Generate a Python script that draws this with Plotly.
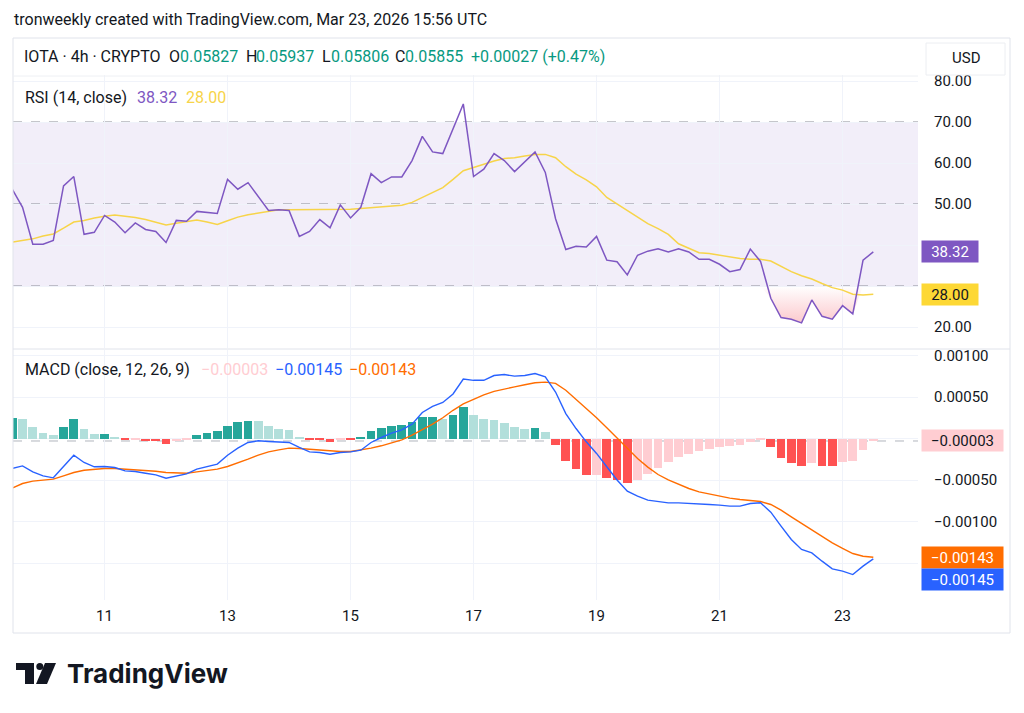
import pandas as pd
import plotly.graph_objects as go
from plotly.subplots import make_subplots

# ---------------- data ----------------
start_time = "2026-03-09 12:00"
bar_hours = 4

rsi = [53.6, 49.2, 40.2, 40.2, 41.1, 54.4, 56.7, 42.6, 43.1, 47.2,
       45.6, 43.0, 45.4, 43.8, 43.3, 40.6, 46.0, 45.8, 48.2, 48.0,
       47.7, 56.0, 53.6, 55.2, 51.8, 48.4, 48.6, 48.4, 42.1, 43.3,
       46.2, 44.2, 49.8, 46.6, 49.2, 57.4, 55.2, 56.6, 56.6, 60.6,
       66.5, 62.7, 62.3, 68.3, 74.4, 56.7, 58.5, 62.3, 60.6, 57.9,
       60.2, 62.7, 57.7, 46.4, 38.9, 39.7, 39.5, 42.1, 36.3, 35.9,
       32.7, 37.5, 38.5, 39.1, 38.3, 39.1, 38.3, 36.5, 36.5, 35.3,
       33.5, 34.0, 39.0, 36.0, 27.0, 22.3, 21.9, 21.0, 26.6, 22.6,
       21.9, 25.2, 23.2, 36.3, 38.32]

rsi_ma = [40.7, 41.1, 41.5, 42.2, 42.7, 44.1, 45.6, 46.0, 46.6, 47.0,
          47.3, 47.0, 46.7, 46.2, 45.6, 44.9, 45.3, 45.7, 46.1, 45.6,
          45.0, 45.9, 46.8, 47.4, 47.8, 48.2, 48.6, 48.6, 48.6, 48.6,
          48.6, 48.6, 48.6, 48.7, 48.9, 49.1, 49.3, 49.5, 49.7, 50.4,
          51.6, 52.7, 54.0, 56.0, 58.1, 58.9, 59.7, 60.5, 61.1, 61.3,
          61.7, 62.1, 62.1, 61.3, 59.1, 57.3, 55.9, 54.2, 51.6, 50.0,
          48.4, 46.8, 45.2, 44.0, 42.6, 40.3, 39.1, 38.1, 37.9, 37.5,
          37.1, 36.7, 36.5, 36.5, 36.1, 34.8, 33.5, 32.5, 31.7, 30.6,
          29.6, 29.0, 28.0, 27.8, 28.0]

macd = [-0.000361, -0.000330, -0.000402, -0.000450, -0.000474, -0.000337, -0.000201, -0.000289, -0.000341, -0.000337,
        -0.000349, -0.000390, -0.000398, -0.000418, -0.000438, -0.000478, -0.000450, -0.000426, -0.000369, -0.000337,
        -0.000309, -0.000201, -0.000116, -0.000048, -0.000028, -0.000036, -0.000044, -0.000048, -0.000108, -0.000161,
        -0.000169, -0.000189, -0.000169, -0.000161, -0.000141, -0.000048, 0.000012, 0.000064, 0.000104, 0.000173,
        0.000313, 0.000386, 0.000434, 0.000536, 0.000717, 0.000701, 0.000701, 0.000759, 0.000771, 0.000751,
        0.000759, 0.000783, 0.000743, 0.000560, 0.000300, 0.000120, -0.000040, -0.000180, -0.000340, -0.000500,
        -0.000635, -0.000695, -0.000743, -0.000763, -0.000775, -0.000775, -0.000779, -0.000787, -0.000795, -0.000803,
        -0.000815, -0.000815, -0.000783, -0.000775, -0.000888, -0.001056, -0.001217, -0.001337, -0.001378, -0.001478,
        -0.001570, -0.001598, -0.001639, -0.001538, -0.001450]

signal = [-0.000598, -0.000542, -0.000514, -0.000498, -0.000490, -0.000450, -0.000410, -0.000382, -0.000369, -0.000361,
          -0.000361, -0.000369, -0.000369, -0.000382, -0.000394, -0.000410, -0.000418, -0.000418, -0.000402, -0.000390,
          -0.000369, -0.000337, -0.000297, -0.000249, -0.000201, -0.000161, -0.000137, -0.000116, -0.000120, -0.000129,
          -0.000137, -0.000149, -0.000157, -0.000157, -0.000141, -0.000116, -0.000088, -0.000056, -0.000016, 0.000040,
          0.000104, 0.000173, 0.000250, 0.000340, 0.000416, 0.000476, 0.000526, 0.000568, 0.000598, 0.000622,
          0.000647, 0.000671, 0.000679, 0.000665, 0.000582, 0.000474, 0.000364, 0.000250, 0.000130, 0.000010,
          -0.000120, -0.000241, -0.000345, -0.000434, -0.000498, -0.000554, -0.000602, -0.000643, -0.000671, -0.000695,
          -0.000719, -0.000735, -0.000743, -0.000759, -0.000795, -0.000863, -0.000944, -0.001024, -0.001096, -0.001185,
          -0.001257, -0.001325, -0.001386, -0.001418, -0.001430]

hist = [0.000253, 0.000240, 0.000140, 0.000072, 0.000040, 0.000140, 0.000233, 0.000112, 0.000050, 0.000056,
        0.000024, -0.000024, -0.000008, -0.000032, -0.000034, -0.000064, -0.000032, -0.000008, 0.000040, 0.000072,
        0.000088, 0.000152, 0.000193, 0.000213, 0.000205, 0.000152, 0.000112, 0.000104, 0.000016, -0.000016,
        -0.000018, -0.000040, -0.000008, -0.000016, 0.000020, 0.000092, 0.000124, 0.000149, 0.000160, 0.000193,
        0.000261, 0.000265, 0.000241, 0.000287, 0.000380, 0.000283, 0.000229, 0.000226, 0.000189, 0.000137,
        0.000118, 0.000124, 0.000080, -0.000076, -0.000275, -0.000370, -0.000440, -0.000434, -0.000480, -0.000502,
        -0.000534, -0.000494, -0.000422, -0.000353, -0.000285, -0.000225, -0.000181, -0.000153, -0.000124, -0.000108,
        -0.000092, -0.000080, -0.000044, -0.000024, -0.000108, -0.000237, -0.000297, -0.000329, -0.000301, -0.000329,
        -0.000333, -0.000281, -0.000269, -0.000141, -0.000030]

tick_dates = ["2026-03-11", "2026-03-13", "2026-03-15", "2026-03-17",
              "2026-03-19", "2026-03-21", "2026-03-23"]
tick_labels = ["11", "13", "15", "17", "19", "21", "23"]

rsi_ticks = [80, 70, 60, 50, 40, 30, 20]
rsi_tick_text = ["80.00", "70.00", "60.00", "50.00", "", "", "20.00"]
macd_ticks = [0.001, 0.0005, 0.0, -0.0005, -0.001, -0.0015]
macd_tick_text = ["0.00100", "0.00050", "", "\u22120.00050", "\u22120.00100", ""]

ohlc_labels = ["O", "H", "L", "C"]
ohlc_values = ["0.05827", "0.05937", "0.05806", "0.05855"]
change_text = "+0.00027 (+0.47%)"

# ---------------- geometry helpers ----------------
W, H = 1024, 713
L, R, T, B = 13, 918, 75, 600
def px(x):
    return (x - L) / (R - L)
def py(y):
    return (B - y) / (B - T)

times = pd.date_range(start_time, periods=len(rsi), freq=f"{bar_hours}h")
hour_px = 10.25 / bar_hours
x_start = pd.Timestamp(start_time) + pd.Timedelta(hours=(L - 12.3) / hour_px)
x_end = x_start + pd.Timedelta(hours=(R - L) / hour_px)

FONT = "Roboto"
TXT = "#131722"
MINUS = "\u2212"
def fmt(v, d):
    s = f"{v:.{d}f}"
    return s.replace("-", MINUS)

# histogram colours from growth
hist_colors = []
for i, v in enumerate(hist):
    prev = hist[i - 1] if i > 0 else -1
    if v >= 0:
        hist_colors.append("#26a69a" if v > prev else "#b2dfdb")
    else:
        hist_colors.append("#ff5252" if v < prev else "#ffcdd2")

fig = make_subplots(rows=2, cols=1, shared_xaxes=True)

# oversold fill
rsi_clip = [min(v, 30) for v in rsi]
fig.add_trace(go.Scatter(x=times, y=[30] * len(rsi), mode="lines",
                         line=dict(width=0, color="rgba(0,0,0,0)"),
                         hoverinfo="skip"), row=1, col=1)
fig.add_trace(go.Scatter(x=times, y=rsi_clip, mode="lines", fill="tonexty",
                         line=dict(width=0, color="rgba(0,0,0,0)"),
                         fillgradient=dict(type="vertical", start=20, stop=30,
                                           colorscale=[[0, "rgba(242,54,69,0.30)"],
                                                       [1, "rgba(242,54,69,0.0)"]]),
                         hoverinfo="skip"), row=1, col=1)
fig.add_trace(go.Scatter(x=times, y=rsi_ma, mode="lines",
                         line=dict(color="#f7d449", width=1.5)), row=1, col=1)
fig.add_trace(go.Scatter(x=times, y=rsi, mode="lines",
                         line=dict(color="#7e57c2", width=1.5)), row=1, col=1)

bar_w = bar_hours * 3600 * 1000 * 0.86
fig.add_trace(go.Bar(x=times, y=hist, marker=dict(color=hist_colors, line=dict(width=0)),
                     width=bar_w), row=2, col=1)
fig.add_trace(go.Scatter(x=times, y=signal, mode="lines",
                         line=dict(color="#ff6d00", width=1.4)), row=2, col=1)
fig.add_trace(go.Scatter(x=times, y=macd, mode="lines",
                         line=dict(color="#2962ff", width=1.4)), row=2, col=1)

GRID = "#f0f3fa"
xcommon = dict(range=[x_start, x_end], tickvals=tick_dates, ticktext=tick_labels,
               showgrid=True, gridcolor=GRID, gridwidth=1, zeroline=False,
               showline=False, ticks="")
fig.update_xaxes(**xcommon)
fig.update_xaxes(showticklabels=False, row=1, col=1)
fig.update_xaxes(showticklabels=True, tickfont=dict(family=FONT, size=15, color=TXT),
                 ticklabelstandoff=5, row=2, col=1)

rsi_lo = 70 - (348 - 122) / 4.1
rsi_hi = 70 + (122 - T) / 4.1
zero_y = 438.5
per = 83000.0
macd_hi = (zero_y - 350) / per
macd_lo = -(B - zero_y) / per

fig.update_layout(
    width=W, height=H,
    margin=dict(l=L, r=W - R, t=T, b=H - B),
    paper_bgcolor="white", plot_bgcolor="white",
    showlegend=False, bargap=0,
    yaxis=dict(domain=[py(348), 1.0], range=[rsi_lo, rsi_hi], side="right",
               tickvals=rsi_ticks, ticktext=rsi_tick_text,
               tickfont=dict(family=FONT, size=15, color=TXT),
               showgrid=True, gridcolor=GRID, zeroline=False, ticks="",
               ticklabelstandoff=15),
    yaxis2=dict(domain=[0, py(350)], range=[macd_lo, macd_hi], side="right",
                tickvals=macd_ticks, ticktext=macd_tick_text,
                tickfont=dict(family=FONT, size=15, color=TXT),
                showgrid=True, gridcolor=GRID, zeroline=False, ticks="",
                ticklabelstandoff=15),
)

shapes = []
# RSI band and levels
shapes.append(dict(type="rect", xref="x domain", yref="y", x0=0, x1=1, y0=30, y1=70,
                   fillcolor="rgba(126,87,194,0.1)", line=dict(width=0), layer="below"))
for lvl in (70, 50, 30):
    shapes.append(dict(type="line", xref="x domain", yref="y", x0=0, x1=1, y0=lvl, y1=lvl,
                       line=dict(color="#8a8d96", width=1, dash="dash"), layer="below"))
shapes.append(dict(type="line", xref="x2 domain", yref="y2", x0=0, x1=1,
                   y0=hist[-1], y1=hist[-1],
                   line=dict(color="#b2b5be", width=1, dash="dash"), layer="below"))
# frames
FR = "#e0e3eb"
shapes.append(dict(type="rect", xref="paper", yref="paper", x0=px(13), x1=px(1010),
                   y0=py(633), y1=py(38), line=dict(color=FR, width=1)))
shapes.append(dict(type="line", xref="paper", yref="paper", x0=px(13), x1=px(918),
                   y0=py(76), y1=py(76), line=dict(color="#eef0f4", width=1)))
shapes.append(dict(type="line", xref="paper", yref="paper", x0=px(13), x1=px(1010),
                   y0=py(349), y1=py(349), line=dict(color=FR, width=1)))
# USD box
shapes.append(dict(type="rect", xref="paper", yref="paper", x0=px(926), x1=px(1005),
                   y0=py(75), y1=py(43), line=dict(color="#eceef2", width=1),
                   fillcolor="white"))
# TradingView logo glyph
def path(points):
    s = "M " + " L ".join(f"{px(a)},{py(b)}" for a, b in points) + " Z"
    return s
shapes.append(dict(type="path", xref="paper", yref="paper",
                   path=path([(16, 663), (34, 663), (34, 684), (25, 684), (25, 670), (16, 670)]),
                   fillcolor="#131722", line=dict(width=0)))
shapes.append(dict(type="circle", xref="paper", yref="paper",
                   x0=px(36.3), x1=px(43.3), y0=py(670), y1=py(663),
                   fillcolor="#131722", line=dict(width=0)))
shapes.append(dict(type="path", xref="paper", yref="paper",
                   path=path([(45, 663), (56, 663), (47, 684), (36, 684)]),
                   fillcolor="#131722", line=dict(width=0)))
fig.update_layout(shapes=shapes)

ann = []
def text(x, y, t, size=16, color=TXT, anchor="left", family=FONT):
    ann.append(dict(xref="paper", yref="paper", x=px(x), y=py(y), text=t, showarrow=False,
                    xanchor=anchor, yanchor="middle", xshift=-1,
                    font=dict(family=family, size=size, color=color)))

GREEN = "#089981"
text(13, 20, "tronweekly created with TradingView.com, Mar 23, 2026 15:56 UTC", 16)
text(23, 56, "IOTA · 4h · CRYPTO", 16)
label_x = [168, 245, 321, 394]
value_x = [179, 255, 330, 404]
for lx, vx, lab, val in zip(label_x, value_x, ohlc_labels, ohlc_values):
    text(lx, 56, lab, 16)
    text(vx, 56, val, 16, GREEN)
text(470, 56, change_text, 16, GREEN)

text(24, 97, "RSI (14, close)", 16)
text(136, 97, fmt(rsi[-1], 2), 16, "#7e57c2")
text(185, 97, fmt(rsi_ma[-1], 2), 16, "#f7d449")

text(24, 369, "MACD (close, 12, 26, 9)", 16)
text(200, 369, fmt(hist[-1], 5), 16, "#ffcdd2")
text(274, 369, fmt(macd[-1], 5), 16, "#2962ff")
text(348, 369, fmt(signal[-1], 5), 16, "#ff6d00")

text(951, 58, "USD", 15)
ann.append(dict(xref="paper", yref="paper", x=px(65), y=py(673), text="<b>TradingView</b>",
                showarrow=False, xanchor="left", yanchor="middle",
                font=dict(family="Inter", size=26, color="#131722")))

def badge(yref, yv, t, bg, fg, w, dy=0):
    ann.append(dict(xref="paper", yref=yref, x=1.0, y=yv, text=t, showarrow=False,
                    xanchor="left", yanchor="middle", xshift=3, yshift=dy,
                    bgcolor=bg, width=w, height=17, borderpad=2, align="center",
                    font=dict(family=FONT, size=15, color=fg)))

badge("y", rsi[-1], fmt(rsi[-1], 2), "#7e57c2", "white", 52)
badge("y", rsi_ma[-1], fmt(rsi_ma[-1], 2), "#fdd835", TXT, 52)
badge("y2", hist[-1], fmt(hist[-1], 5), "#ffcdd2", TXT, 77)
badge("y2", signal[-1], fmt(signal[-1], 5), "#ff6d00", "white", 77)
badge("y2", macd[-1], fmt(macd[-1], 5), "#2962ff", "white", 77, dy=-21)
fig.update_layout(annotations=ann)

fig.write_html("out.html", config={"displayModeBar": False},
               post_script="document.body.style.margin='0';")
